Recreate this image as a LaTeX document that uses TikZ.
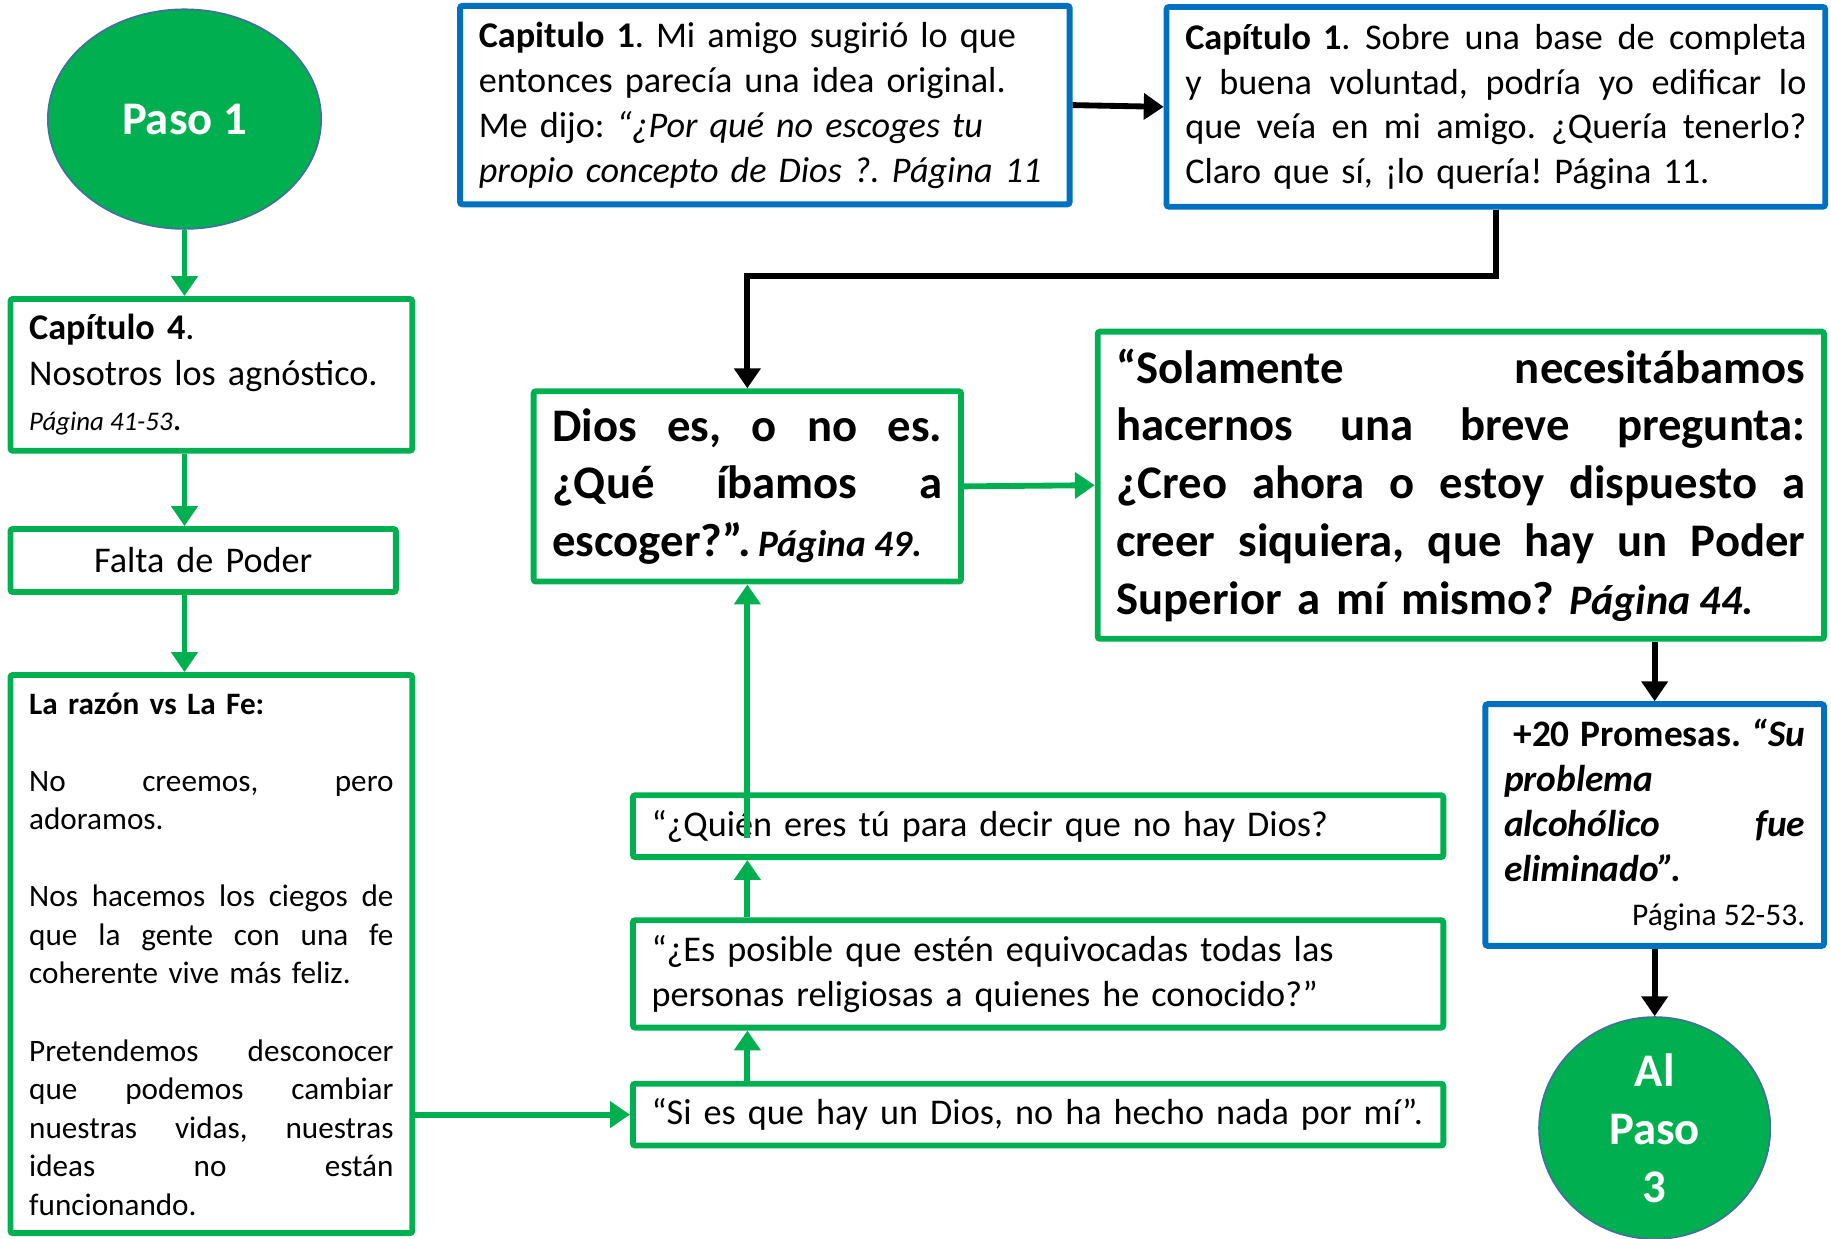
\documentclass[tikz,border=0pt]{standalone}
\usepackage{fontspec}
\setmainfont{Carlito}
\usetikzlibrary{arrows.meta,shapes.geometric,calc}
\definecolor{gr}{HTML}{00B050}
\definecolor{bl}{HTML}{0070C0}
\definecolor{ol}{HTML}{41719C}
\setlength\parindent{0pt}
\frenchspacing
\newdimen\mytw
\newcommand\myfs[2]{\fontsize{#1}{#2}\selectfont\spaceskip=0.226em plus 0.3em minus 0.06em\relax\xspaceskip=\spaceskip}
\makeatletter
\def\jl#1{\leavevmode\hbox to\mytw{\jl@w#1 \jl@end}}
\def\jl@w#1 #2\jl@end{#1\if\relax\detokenize{#2}\relax\else\hskip 0.226em plus 1fill\relax\jl@w#2\jl@end\fi}
\makeatother
\tikzset{
 tw/.style={text width=#1, execute at begin node={\global\mytw=#1pt\relax}},
 gbox/.style={draw=gr, line width=5, rounded corners=2, inner xsep=16, inner ysep=0, fill=white},
 bbox/.style={draw=bl, line width=5, rounded corners=2, inner xsep=16, inner ysep=0, fill=white},
 oval/.style={ellipse, draw=ol, line width=1.5, fill=gr, text=white, inner sep=0},
 garrow/.style={draw=gr, line width=5, -{Triangle[length=17,width=22]}},
 karrow/.style={draw=black, line width=5, -{Triangle[length=17,width=22]}},
}
\begin{document}
\begin{tikzpicture}[x=1pt,y=-1pt]
\useasboundingbox[fill=white] (0,0) rectangle (1568,1061);

\node[oval, minimum width=234, minimum height=188, font=\myfs{40}{49}\bfseries] (p1) at (158,102) {Paso 1};

\node[gbox, tw=312, minimum height=130, align=left, font=\myfs{31}{39}] (cap4) at (181,321)
 {\textbf{Capítulo 4}.\\Nosotros los agnóstico.\\{\myfs{23}{39}\itshape Página 41-53}.};

\node[gbox, tw=298, minimum height=54, align=center, font=\myfs{31}{39}] (falta) at (174,480) {Falta de Poder};

\node[gbox, tw=312, minimum height=478, align=left, font=\myfs{26.7}{33}] (razon) at (181,817)
 {\textbf{La razón vs La Fe:}\\ \mbox{}\\ \jl{No creemos, pero}\\adoramos.\\ \mbox{}\\ \jl{Nos hacemos los ciegos de}\\ \jl{que la gente con una fe}\\coherente vive más feliz.\\ \mbox{}\\ \jl{Pretendemos desconocer}\\ \jl{que podemos cambiar}\\ \jl{nuestras vidas, nuestras}\\ \jl{ideas no están}\\funcionando.};

\node[bbox, tw=490, minimum height=170, align=left, font=\myfs{31}{38.5}] (capA) at (655,90)
 {\textbf{Capitulo 1}. Mi amigo sugirió lo que\\entonces parecía una idea original.\\Me dijo: \textit{“¿Por qué no escoges tu}\\\textit{propio concepto de Dios ?. Página 11}};

\node[bbox, tw=532, minimum height=171, align=left, font=\myfs{31}{38.3}] (capB) at (1281,91.5)
 {\jl{\textbf{Capítulo 1}. Sobre una base de completa}\\ \jl{y buena voluntad, podría yo edificar lo}\\ \jl{que veía en mi amigo. ¿Quería tenerlo?}\\Claro que sí, ¡lo quería! Página 11.};

\node[gbox, tw=334, minimum height=163, align=left, font=\myfs{40}{49}\bfseries] (dios) at (640,416.5)
 {\jl{Dios es, o no es.}\\ \jl{¿Qué íbamos a}\\escoger?”.\hspace{6pt}{\itshape\myfs{32}{49}Página 49.}};

\node[gbox, tw=590, minimum height=263, align=left, font=\myfs{40}{49.5}\bfseries] (sol) at (1251,415.5)
 {\jl{“Solamente necesitábamos}\\ \jl{hacernos una breve pregunta:}\\ \jl{¿Creo ahora o estoy dispuesto a}\\ \jl{creer siquiera, que hay un Poder}\\Superior a mí mismo? {\itshape\myfs{36}{49.5}Página 44.}};

\node[bbox, tw=258, minimum height=207, align=left, font=\myfs{32}{38.5}\bfseries] (prom) at (1417,706.5)
 {\jl{\hspace*{8pt}+20 Promesas. \textit{“Su}}\\ \textit{problema}\\ \jl{\textit{alcohólico} \textit{fue}}\\ \textit{eliminado”.}\\ \hbox to\mytw{\hfil\mdseries\myfs{27}{38.5}Página 52-53.}};

\node[oval, minimum width=198, minimum height=190, align=center, font=\myfs{40}{49.5}\bfseries] (p3) at (1417,966)
 {Al\\Paso\\3};

\node[gbox, tw=662, minimum height=53, align=left, font=\myfs{31}{38}] (quien) at (889,707.5)
 {“¿Quién eres tú para decir que no hay Dios?};
\node[gbox, tw=662, minimum height=92, align=left, font=\myfs{31}{38}] (espos) at (889,834)
 {“¿Es posible que estén equivocadas todas las\\personas religiosas a quienes he conocido?”};
\node[gbox, tw=662, minimum height=53, align=left, font=\myfs{31}{38}] (sies) at (889,954.5)
 {“Si es que hay un Dios, no ha hecho nada por mí”.};

\coordinate (qs) at (640,718);

\draw[garrow] (p1.south) -- (p1.south |- cap4.north);
\draw[garrow] (p1.south |- cap4.south) -- (p1.south |- falta.north);
\draw[garrow] (p1.south |- falta.south) -- (p1.south |- razon.north);
\draw[garrow] (razon.east |- sies.west) -- (sies.west);
\draw[garrow] (sies.north -| dios.south) -- (espos.south -| dios.south);
\draw[garrow] (espos.north -| dios.south) -- (quien.south -| dios.south);
\draw[garrow] (qs) -- (dios.south);
\draw[garrow] (dios.east) -- (sol.west);
\draw[karrow] (capA.east) -- (capB.west);
\draw[karrow] (capB.south) -- ++(0,57) -| (dios.north);
\draw[karrow] (prom.north |- sol.south) -- (prom.north);
\draw[karrow] (prom.south) -- (p3.north);
\end{tikzpicture}
\end{document}
